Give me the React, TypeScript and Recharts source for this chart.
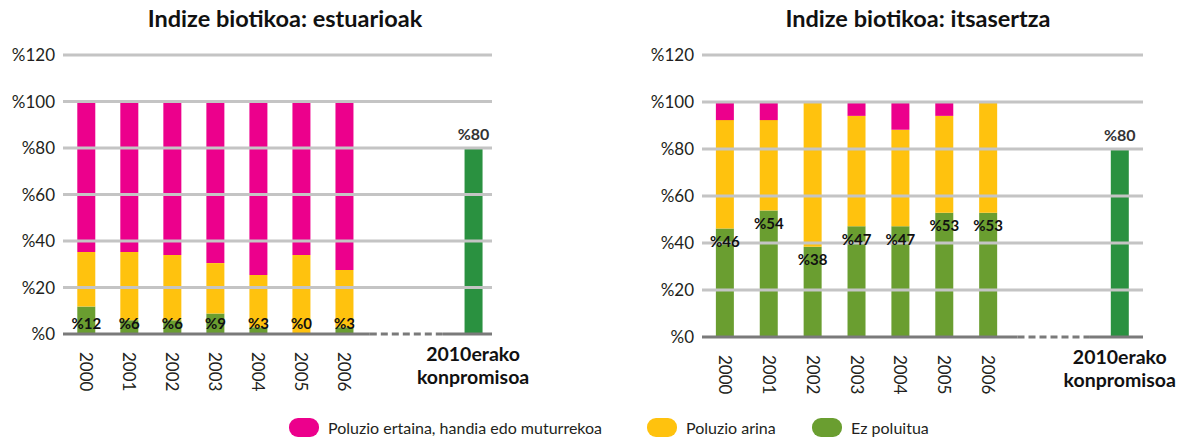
import React from 'react';
import { BarChart, Bar, XAxis, YAxis, ReferenceLine, LabelList } from 'recharts';

const years = ['2000', '2001', '2002', '2003', '2004', '2005', '2006'];
const targetLines = ['2010erako', 'konpromisoa'];
const targetPos = 9;
const targetValue = 80;
const yTicks = [0, 20, 40, 60, 80, 100, 120];

// Estuarioak
const estGreen = [11.8, 5.9, 5.9, 8.8, 2.9, 0, 2.9];
const estYellow = [23.5, 29.4, 28.1, 21.7, 22.5, 34, 24.6];
const estPink = [64.7, 64.7, 66, 69.5, 74.6, 66, 72.5];

// Itsasertza
const coastGreen = [46.2, 53.8, 38.4, 47.1, 47.1, 52.9, 52.9];
const coastYellow = [46.1, 38.5, 61.6, 47.0, 41.1, 41.2, 47.1];
const coastPink = [7.7, 7.7, 0, 5.9, 11.8, 5.9, 0];

const titles = ['Indize biotikoa: estuarioak', 'Indize biotikoa: itsasertza'];
const legendNames = ['Poluzio ertaina, handia edo muturrekoa', 'Poluzio arina', 'Ez poluitua'];

const PINK = '#EC008C';
const YELLOW = '#FFC20E';
const GREEN = '#6A9E30';
const TARGET_GREEN = '#2A9140';
const GRID = '#C4C4C4';
const BASE = '#7A7A7A';
const FONT = 'Lato, "Open Sans", sans-serif';

function buildData(g: number[], y: number[], p: number[]) {
  const rows: any[] = years.map((yr, i) => ({ x: i, label: yr, green: g[i], yellow: y[i], pink: p[i] }));
  rows.push({ x: targetPos, label: 'target', target: targetValue });
  return rows;
}

const fmt = (v: any) => (v === undefined || v === null ? '' : `%${Math.round(Number(v))}`);

const XTick = (props: any) => {
  const { x, y, payload } = props;
  if (payload.value === targetPos) {
    return (
      <g>
        <text x={x} y={y + 19} textAnchor="middle" fontFamily={FONT} fontWeight={700} fontSize={19.5} fill="#111">
          {targetLines[0]}
        </text>
        <text x={x} y={y + 42} textAnchor="middle" fontFamily={FONT} fontWeight={700} fontSize={19.5} fill="#111">
          {targetLines[1]}
        </text>
      </g>
    );
  }
  const y0 = y + 10;
  return (
    <text
      x={x}
      y={y0}
      dy="0.35em"
      textAnchor="start"
      transform={`rotate(90, ${x}, ${y0})`}
      fontFamily={FONT}
      fontSize={17}
      fill="#231F20"
    >
      {years[payload.value]}
    </text>
  );
};

const labelStyle = { fill: '#111', fontSize: 15, fontWeight: 700, fontFamily: FONT };

// label of the green share, written at the foot of the stack (drawn from the yellow segment above it)
const makeBottomLabel = (rows: any[]) => (props: any) => {
  const { x, y, width, height, index } = props;
  const row = rows[index];
  if (!row || !row.yellow) return null;
  const px = Number(height) / row.yellow;
  const bottom = Number(y) + Number(height) + row.green * px;
  return (
    <text x={Number(x) + Number(width) / 2} y={bottom - 5} textAnchor="middle" {...labelStyle}>
      {fmt(row.green)}
    </text>
  );
};

type PanelProps = {
  data: any[];
  width: number;
  yWidth: number;
  marginRight: number;
  marginBottom: number;
  domain: [number, number];
  dashFrom: number;
  dashTo: number;
  bottomLabels: boolean;
};

function Panel(p: PanelProps) {
  return (
    <BarChart
      width={p.width}
      height={439}
      data={p.data}
      margin={{ top: 55, right: p.marginRight, bottom: p.marginBottom, left: 0 }}
    >
      <XAxis
        type="number"
        dataKey="x"
        domain={p.domain}
        allowDataOverflow
        ticks={[...years.map((_, i) => i), targetPos]}
        interval={0}
        axisLine={false}
        tickLine={false}
        height={60}
        tick={<XTick />}
      />
      <YAxis
        type="number"
        domain={[0, 120]}
        ticks={yTicks}
        interval={0}
        width={p.yWidth}
        axisLine={false}
        tickLine={false}
        tickFormatter={(v: number) => `%${v}`}
        tick={{ fontFamily: FONT, fontSize: 17, fill: '#231F20' }}
      />
      {yTicks.filter((t) => t > 0).map((t) => (
        <ReferenceLine key={t} y={t} stroke={GRID} strokeWidth={3} />
      ))}
      <Bar dataKey="green" stackId="s" fill={GREEN} barSize={18} isAnimationActive={false}>
        {!p.bottomLabels && (
          <LabelList dataKey="green" position="insideTop" offset={8} formatter={fmt} {...labelStyle} />
        )}
      </Bar>
      <Bar dataKey="yellow" stackId="s" fill={YELLOW} barSize={18} isAnimationActive={false}>
        {p.bottomLabels && <LabelList dataKey="green" content={makeBottomLabel(p.data)} />}
      </Bar>
      <Bar dataKey="pink" stackId="s" fill={PINK} barSize={18} isAnimationActive={false} />
      <Bar dataKey="target" stackId="s" fill={TARGET_GREEN} barSize={18} isAnimationActive={false}>
        <LabelList
          dataKey="target"
          position="top"
          offset={8}
          formatter={fmt}
          fill="#333"
          fontSize={16}
          fontWeight={700}
          fontFamily={FONT}
        />
      </Bar>
      <ReferenceLine
        segment={[{ x: p.domain[0], y: 0 }, { x: p.dashFrom, y: 0 }]}
        stroke={BASE}
        strokeWidth={3}
      />
      <ReferenceLine
        segment={[{ x: p.dashFrom, y: 0 }, { x: p.dashTo, y: 0 }]}
        stroke={BASE}
        strokeWidth={3}
        strokeDasharray="7 4"
      />
      <ReferenceLine
        segment={[{ x: p.dashTo, y: 0 }, { x: p.domain[1], y: 0 }]}
        stroke={BASE}
        strokeWidth={3}
      />
    </BarChart>
  );
}

const estData = buildData(estGreen, estYellow, estPink);
const coastData = buildData(coastGreen, coastYellow, coastPink);

const legendColors = [PINK, YELLOW, GREEN];
const legendSwatchX = [289, 647, 812];

const titleStyle: React.CSSProperties = {
  position: 'absolute', top: 5, width: 440, textAlign: 'center',
  fontFamily: FONT, fontWeight: 700, fontSize: 23.5, lineHeight: '26px', color: '#111',
};

export default function App() {
  return (
    <div style={{ position: 'absolute', left: 0, top: 0, width: 1184, height: 439, background: '#fff', overflow: 'hidden' }}>
      <div style={{ position: 'absolute', left: 0, top: 0 }}>
        <Panel
          data={estData}
          width={540}
          yWidth={63}
          marginRight={48}
          marginBottom={45}
          domain={[-0.53, 9.44]}
          dashFrom={6.6}
          dashTo={8.3}
          bottomLabels={true}
        />
      </div>
      <div style={{ position: 'absolute', left: 630, top: 0 }}>
        <Panel
          data={coastData}
          width={554}
          yWidth={72}
          marginRight={41}
          marginBottom={42}
          domain={[-0.52, 9.53]}
          dashFrom={6.67}
          dashTo={8.32}
          bottomLabels={false}
        />
      </div>
      <div style={{ ...titleStyle, left: 65 }}>{titles[0]}</div>
      <div style={{ ...titleStyle, left: 698 }}>{titles[1]}</div>
      {legendNames.map((name, i) => (
        <div
          key={name}
          style={{
            position: 'absolute', left: legendSwatchX[i], top: 417, height: 20,
            display: 'flex', alignItems: 'center', fontFamily: FONT, fontSize: 16, color: '#231F20',
            whiteSpace: 'nowrap',
          }}
        >
          <span style={{ display: 'inline-block', width: 30, height: 19, borderRadius: 9, background: legendColors[i], marginRight: 9 }} />
          <span>{name}</span>
        </div>
      ))}
    </div>
  );
}
